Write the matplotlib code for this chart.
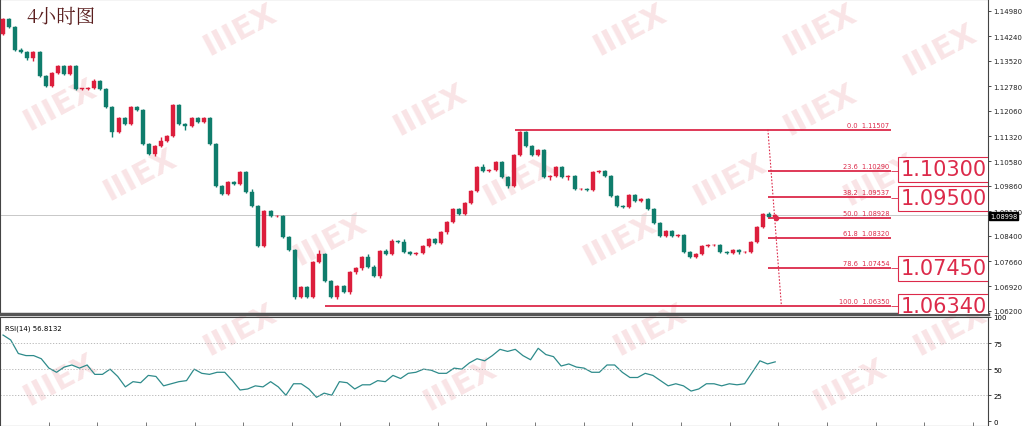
import numpy as np
import matplotlib
matplotlib.use("Agg")
import matplotlib.pyplot as plt
from matplotlib.patches import Rectangle

closes = [1.1474,1.1451,1.1384,1.1378,1.1360,1.1378,1.1308,1.1278,1.1316,1.1337,
1.1313,1.1337,1.1270,1.1270,1.1273,1.1293,1.1270,1.1217,1.1144,1.1185,
1.1167,1.1217,1.1208,1.1109,1.1079,1.1103,1.1117,1.1132,1.1223,1.1167,
1.1161,1.1185,1.1173,1.1185,1.1109,1.0986,1.0962,1.0997,1.0992,1.1027,
1.0968,1.0927,1.0810,1.0912,1.0898,1.0898,1.0836,1.0798,1.0661,1.0690,
1.0661,1.0763,1.0787,1.0708,1.0661,1.0693,1.0675,1.0734,
1.0745,1.0778,1.0749,1.0722,1.0795,1.0787,1.0825,1.0822,1.0792,1.0787,
1.0790,1.0810,1.0831,1.0819,1.0851,1.0880,1.0918,1.0904,1.0936,1.0971,
1.1041,1.1030,1.1033,1.1056,1.1012,1.0986,1.1076,1.1144,1.1103,1.1076,
1.1091,1.1012,1.1015,1.1041,1.1012,1.1015,1.0977,1.0977,1.0974,1.1027,
1.1030,1.1015,1.0956,1.0927,1.0924,1.0959,1.0942,1.0947,1.0918,1.0877,
1.0839,1.0854,1.0839,1.0842,1.0792,1.0778,1.0787,1.0810,1.0813,1.0813,
1.0792,1.0790,1.0798,1.0792,1.0792,1.0822,1.0866,1.0904,1.0895,1.0900]
first_open = 1.1430
upper_wick = [6,4,8,10,5,4,6,5,6,4, 5,6,4,3,6,12,4,5,6,8, 4,6,5,6,5,8,25,6,5,8,
              4,6,5,4,6,5,4,8,5,6, 6,20,6,5,5,4,6,5,4,8, 4,6,20,5,4,6,5,5,
              5,6,15,8,6,10,12,6,15,5, 6,8,6,6,5,8,6,6,6,8, 6,20,6,6,5,8,6,6,8,6,
              6,5,6,5,6,5,6,5,6,8, 5,6,5,6,6,8,5,6,5,5, 5,5,6,5,5,6,5,5,5,5,
              6,6,5,5,6,6,5,6,12,5]
lower_wick = [5,5,6,5,10,15,5,6,5,6, 5,6,5,5,6,5,5,8,30,6, 5,6,5,6,8,10,6,6,5,6,
              25,6,5,5,6,6,8,5,5,6, 6,6,6,6,5,5,6,5,10,6, 8,6,6,5,6,10,5,8,
              10,8,6,6,10,8,6,8,6,5, 6,8,6,6,8,10,6,5,6,5, 5,6,6,8,8,15,5,6,6,6,
              6,6,15,6,6,20,6,6,6,6, 6,5,6,6,6,5,6,6,6,6, 6,6,6,6,6,5,6,6,5,5,
              6,8,6,8,6,6,5,6,8,5]
rsi = [82.7,78,65,63,63,60,51,47,52,54,51,54,45,45,50,43,33,38,37,44,43,34,36,38,39,
       50,46,45,47,47,39,30,31,34,33,38,33,25,36,36,31,23,27,25,38,37,31,35,35,39,
       38,44,41,46,47,50,49,46,46,51,50,56,60,58,63,69,67,69,63,59,70,64,62,53,55,
       52,51,47,47,54,54,47,42,42,46,44,39,34,36,34,29,31,36,36,34,36,35,36,47,58,55,57]
price_ticks = [1.14980,1.14240,1.13520,1.12780,1.12060,1.11320,1.10580,1.09860,1.09120,
               1.08400,1.07660,1.06920,1.06200]
fib_pct = ["0.0","23.6","38.2","50.0","61.8","78.6","100.0"]
fib_val = [1.11507,1.10290,1.09537,1.08928,1.08320,1.07454,1.06350]
target_boxes = [1.10300,1.09500,1.07450,1.06340]
current_price = 1.08998
rsi_value = "56.8132"

UP = "#dc1e3c"; DN = "#0f7d6c"; FIB = "#dc2a4a"
plt.rcParams['font.family'] = ['DejaVu Sans']
fig = plt.figure(figsize=(10.24, 4.27), dpi=100)
W, H = 1024, 427
ax = fig.add_axes([0, 1-315/H, 988/W, 315/H])
ax2 = fig.add_axes([0, 0, 988/W, 109/H])
for a in (ax, ax2):
    a.set_zorder(2)
    a.patch.set_alpha(0)

n = len(closes)
opens = [first_open] + closes[:-1]
for i in range(n):
    o, c = opens[i], closes[i]
    col = UP if c >= o else DN
    hi = max(o, c) + upper_wick[i]*1e-4/2
    lo = min(o, c) - lower_wick[i]*1e-4/2
    ax.vlines(i, lo, hi, color=col, lw=1, zorder=3)
    ax.add_patch(Rectangle((i-0.33, min(o, c)), 0.66, max(abs(c-o), 0.00012),
                           facecolor=col, edgecolor=col, lw=0.3, zorder=4))

ax.set_xlim(-0.5, 162)
ax.set_ylim(1.0611, 1.1533)
ax.axhline(current_price, color="#c8c8c8", lw=0.7, zorder=1)

starts = [84.2, 125.8, 125.8, 125.8, 125.8, 125.8, 53]
for s, pct, v in zip(starts, fib_pct, fib_val):
    ax.hlines(v, s, 146, color=FIB, lw=1.3, zorder=5)
    ax.text(145.8, v+0.0006, f"{pct}  {v:.5f}", color=FIB, fontsize=4.8,
            ha="right", va="bottom", zorder=6)
ax.plot([125.8, 128], [fib_val[0], fib_val[-1]+0.0004], color=FIB, lw=0.8, ls=(0,(1.5,1.5)), zorder=5)
ax.plot([127.2], [fib_val[3]], marker="o", ms=3, color=FIB, zorder=6)
for v in target_boxes:
    yy = v + (0.00045 if v > 1.1 else 0)
    ax.hlines(v, 146, 147.3, color=FIB, lw=0.6)
    ax.text(147.6, yy, f"{v:.5f}", color=FIB, fontsize=15, ha="left", va="center",
            family=["Liberation Sans Narrow", "DejaVu Sans"], zorder=7, clip_on=True,
            bbox=dict(boxstyle="square,pad=0.12", fc="white", ec=FIB, lw=0.8))

ax.yaxis.tick_right()
ax.set_yticks(price_ticks)
ax.set_yticklabels([f"{t:.5f}" for t in price_ticks], fontsize=5, color="#222222")
ax.tick_params(axis="y", length=2, pad=2, width=0.5)
ax.set_xticks([])
fig.text(990/W, 1-217/H, f"{current_price:.5f}",
         fontsize=4.8, color="white", ha="left", va="center", zorder=10,
         bbox=dict(boxstyle="square,pad=0.15", fc="black", ec="black"))
ax.text(0.027, 0.975, "4小时图", transform=ax.transAxes, fontsize=14, color="#5a1e1e",
        family=["Noto Serif CJK SC", "Noto Sans CJK SC", "DejaVu Sans"], va="top", ha="left", zorder=10)

rx = np.linspace(0, n-1, len(rsi))
ax2.plot(rx, rsi, color="#2e8b8b", lw=0.9)
for lv in (75, 50, 25):
    ax2.axhline(lv, color="#b0b0b0", lw=0.6, ls=(0, (1.5, 2)))
ax2.set_xlim(-0.5, 162)
ax2.set_ylim(-4.5, 98.5)
ax2.yaxis.tick_right()
ax2.set_yticks([100, 75, 50, 25, 0])
ax2.set_yticklabels(["100", "75", "50", "25", "0"], fontsize=5)
ax2.tick_params(axis="y", length=2, pad=2, width=0.5)
ax2.set_xticks(np.arange(7.5, 162, 8))
ax2.set_xticklabels([])
ax2.tick_params(axis="x", direction="in", length=3, width=0.5, color="#444444")
ax2.text(0.005, 0.93, f"RSI(14) {rsi_value}", transform=ax2.transAxes, fontsize=5, va="top")

for a in (ax, ax2):
    for sp in a.spines.values():
        sp.set_color("#444444"); sp.set_linewidth(0.8)
ax.spines["bottom"].set_linewidth(2.5); ax.spines["bottom"].set_color("#555555")

for (x, y) in [(60,105),(140,175),(330,240),(240,30),(430,110),(520,180),(630,30),(620,240),
               (820,110),(730,180),(880,180),(820,30),(940,50),(60,380),(240,330),(460,385),
               (650,330),(850,385),(950,330)]:
    fig.text(x/W, 1-y/H, "IIIEX", fontsize=22, fontweight="bold", color="#f2c4c8",
             alpha=0.45, rotation=28, ha="center", va="center", zorder=0)
fig.savefig("out.png", dpi=100)
